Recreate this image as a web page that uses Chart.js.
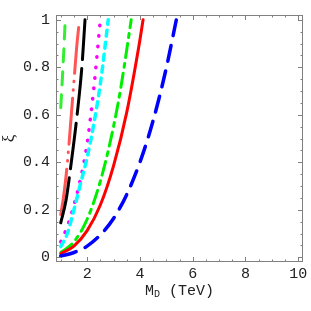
<!DOCTYPE html>
<html>
<head>
<meta charset="utf-8">
<script src="https://cdn.jsdelivr.net/npm/chart.js@4.4.1/dist/chart.umd.min.js"></script>
<style>
  html, body { margin: 0; padding: 0; background: #fff; }
</style>
</head>
<body>
<canvas id="xiChart" width="311" height="311"></canvas>
<script>
// tick labels
const xTicks = [2, 4, 6, 8, 10];
const yTicks = [0, 0.2, 0.4, 0.6, 0.8, 1];

// curves (M_D in TeV, xi)
const mdGreenDash = [1.0, 1.06, 1.12, 1.17];
const xiGreenDash = [0.63, 0.75, 0.88, 1.0];

const mdSalmon = [1.0, 1.1, 1.2, 1.3, 1.4, 1.5, 1.6, 1.71];
const xiSalmon = [0.18, 0.25, 0.34, 0.46, 0.6, 0.74, 0.88, 1.0];

const mdBlack = [1.0, 1.2, 1.4, 1.6, 1.8, 1.92];
const xiBlack = [0.145, 0.24, 0.4, 0.58, 0.8, 1.0];

const mdMagenta = [1.0, 1.25, 1.5, 1.75, 2.0, 2.25, 2.5];
const xiMagenta = [0.065, 0.13, 0.22, 0.33, 0.48, 0.71, 1.0];

const mdCyan = [1.0, 1.25, 1.5, 1.75, 2.0, 2.25, 2.5, 2.8];
const xiCyan = [0.045, 0.1, 0.2, 0.31, 0.42, 0.56, 0.73, 1.0];

const mdGreenDot = [1.0, 1.5, 2.0, 2.5, 3.0, 3.3, 3.67];
const xiGreenDot = [0.02, 0.065, 0.16, 0.32, 0.55, 0.73, 1.0];

const mdRed = [1.0, 1.5, 2.0, 2.5, 3.0, 3.5, 4.0, 4.12];
const xiRed = [0.015, 0.047, 0.112, 0.22, 0.385, 0.61, 0.915, 1.0];

const mdBlue = [1.0, 1.5, 2.0, 2.5, 3.0, 3.5, 4.0, 4.5, 5.0, 5.38];
const xiBlue = [0.005, 0.02, 0.047, 0.094, 0.163, 0.264, 0.4, 0.575, 0.797, 1.0];

function pts(xs, ys) {
    return xs.map((x, i) => ({ x: x, y: ys[i] }));
}

function curve(xs, ys, color, dash, width) {
    return {
        data: pts(xs, ys),
        borderColor: color,
        borderWidth: width || 3,
        borderDash: dash,
        borderCapStyle: 'round',
        pointRadius: 0,
        fill: false,
        cubicInterpolationMode: 'monotone'
    };
}

// Mathematica style frame with inward ticks on all sides
const frameTicks = {
    id: 'frameTicks',
    afterDraw(chart) {
        const ctx = chart.ctx;
        const a = chart.chartArea;
        const xs = chart.scales.x;
        const ys = chart.scales.y;
        ctx.save();
        ctx.strokeStyle = '#808080';
        ctx.lineWidth = 1;
        ctx.strokeRect(a.left + 0.5, a.top + 0.5, a.right - a.left - 1, a.bottom - a.top - 1);
        ctx.beginPath();
        for (let v = 1; v <= 10.001; v += 0.5) {
            const len = xTicks.includes(v) ? 5 : 2.5;
            const px = Math.round(xs.getPixelForValue(v)) + 0.5;
            ctx.moveTo(px, a.bottom); ctx.lineTo(px, a.bottom - len);
            ctx.moveTo(px, a.top); ctx.lineTo(px, a.top + len);
        }
        for (let i = 0; i <= 20; i++) {
            const v = i * 0.05;
            const len = i % 4 === 0 ? 5 : 2.5;
            const py = Math.round(ys.getPixelForValue(v)) + 0.5;
            ctx.moveTo(a.left, py); ctx.lineTo(a.left + len, py);
            ctx.moveTo(a.right, py); ctx.lineTo(a.right - len, py);
        }
        ctx.stroke();

        // axis titles
        ctx.fillStyle = '#222';
        const cx = (a.left + a.right) / 2;
        const mainFont = '15px "Liberation Mono"';
        const subFont = '10px "Liberation Mono"';
        ctx.font = mainFont;
        const wM = ctx.measureText('M').width;
        const wRest = ctx.measureText(' (TeV)').width;
        ctx.font = subFont;
        const wD = ctx.measureText('D').width;
        let x0 = cx - (wM + wD + wRest) / 2;
        const base = 295;
        ctx.textBaseline = 'alphabetic';
        ctx.textAlign = 'left';
        ctx.font = mainFont;
        ctx.fillText('M', x0, base);
        ctx.font = subFont;
        ctx.fillText('D', x0 + wM, base + 2);
        ctx.font = mainFont;
        ctx.fillText(' (TeV)', x0 + wM + wD, base);

        ctx.translate(10, (a.top + a.bottom) / 2);
        ctx.rotate(-Math.PI / 2);
        ctx.textAlign = 'center';
        ctx.textBaseline = 'middle';
        ctx.font = '17px "Liberation Serif"';
        ctx.fillText('ξ', 0, 0);
        ctx.restore();
    }
};

new Chart(document.getElementById('xiChart'), {
    type: 'line',
    data: {
        datasets: [
            curve(mdBlue, xiBlue, '#0000ff', [16, 10], 3.5),
            curve(mdRed, xiRed, '#ff0000', [], 3),
            curve(mdGreenDot, xiGreenDot, '#00ee00', [14, 6, 4, 6], 3),
            curve(mdCyan, xiCyan, '#00ffff', [6, 6], 3.5),
            curve(mdMagenta, xiMagenta, '#ff00ff', [0.5, 10], 3.5),
            curve(mdBlack, xiBlack, '#000000', [46, 9], 3),
            curve(mdSalmon, xiSalmon, '#ff5555', [46, 8, 0.5, 8, 0.5, 8], 3),
            curve(mdGreenDash, xiGreenDash, '#33ee33', [13, 10], 3)
        ]
    },
    options: {
        responsive: false,
        animation: false,
        layout: { padding: { top: 15, right: 8, left: 0, bottom: 0 } },
        plugins: {
            legend: { display: false },
            tooltip: { enabled: false }
        },
        scales: {
            x: {
                type: 'linear',
                min: 0.82,
                max: 10.18,
                grid: { display: false, drawTicks: false },
                border: { display: false },
                afterBuildTicks: s => { s.ticks = xTicks.map(v => ({ value: v })); },
                afterFit: s => { s.height = 49; },
                ticks: {
                    padding: 3,
                    color: '#222',
                    font: { family: 'Liberation Mono', size: 15 },
                    maxRotation: 0,
                    callback: v => String(v)
                }
            },
            y: {
                type: 'linear',
                min: -0.02,
                max: 1.02,
                grid: { display: false, drawTicks: false },
                border: { display: false },
                afterBuildTicks: s => { s.ticks = yTicks.map(v => ({ value: v })); },
                afterFit: s => { s.width = 56; },
                ticks: {
                    padding: 6,
                    color: '#222',
                    font: { family: 'Liberation Mono', size: 15 },
                    callback: v => String(+v.toFixed(1))
                }
            }
        }
    },
    plugins: [frameTicks]
});
</script>
</body>
</html>
